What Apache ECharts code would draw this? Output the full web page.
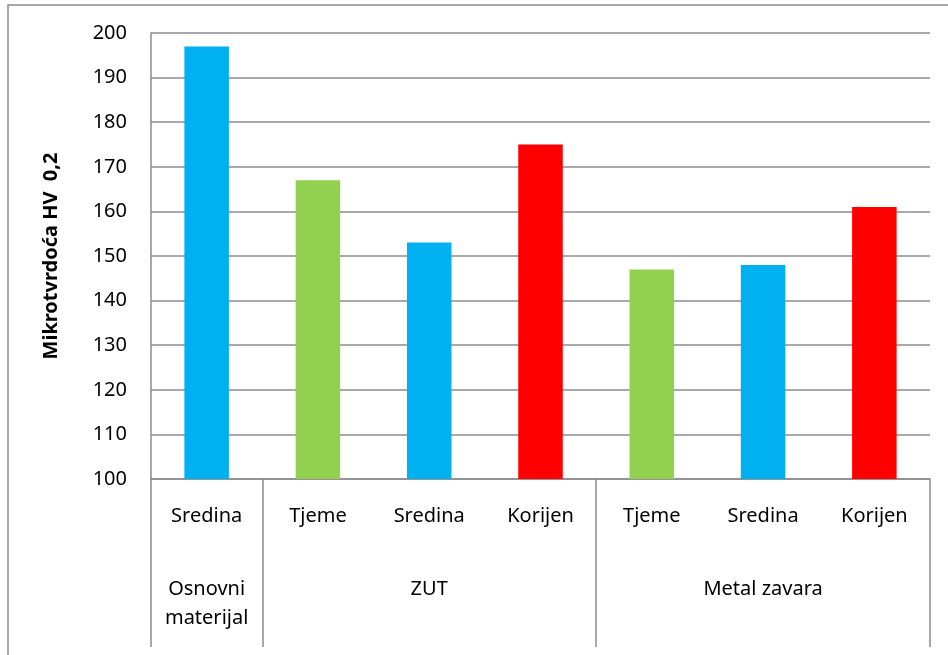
<!DOCTYPE html>
<html>
<head>
<meta charset="utf-8">
<script src="https://cdn.jsdelivr.net/npm/echarts@6/dist/echarts.min.js"></script>
<style>
  html, body { margin: 0; padding: 0; background: #fff; }
  #chart { width: 948px; height: 655px; }
</style>
</head>
<body>
<div id="chart"></div>
<script>
  // podaci
  var categories = ['Sredina', 'Tjeme', 'Sredina', 'Korijen', 'Tjeme', 'Sredina', 'Korijen'];
  var values = [197, 167, 153, 175, 147, 148, 161];
  var groupNames = ['Osnovni\nmaterijal', 'ZUT', 'Metal zavara'];
  var groupCenters = [0.5, 2.5, 5.5];
  var groupBounds = [0, 1, 4, 7];
  var yTicks = [100, 110, 120, 130, 140, 150, 160, 170, 180, 190, 200];

  var barColors = ['#00B0F0', '#92D050', '#00B0F0', '#FF0000', '#92D050', '#00B0F0', '#FF0000'];
  var gray = '#8c8c8c';
  var font = 'Noto Sans';

  var myChart = echarts.init(document.getElementById('chart'));

  var option = {
    animation: false,
    graphic: [{
      type: 'rect',
      shape: { x: 8, y: 5, width: 1200, height: 1200 },
      style: { fill: 'none', stroke: gray, lineWidth: 1.5 }
    }],
    grid: { left: 151, right: 18, top: 33, bottom: 176 },
    xAxis: [
      {
        type: 'category',
        data: categories,
        axisLine: { lineStyle: { color: gray, width: 1.5 } },
        axisTick: { show: false },
        axisLabel: { color: '#000', fontFamily: font, fontSize: 20, margin: 27, interval: 0 }
      },
      {
        type: 'value',
        position: 'bottom',
        min: 0,
        max: 7,
        axisLine: { show: false },
        splitLine: { show: false },
        axisTick: {
          show: true,
          customValues: groupBounds,
          length: 168,
          lineStyle: { color: gray, width: 1.5 }
        },
        axisLabel: {
          customValues: groupCenters,
          color: '#000',
          fontFamily: font,
          fontSize: 20,
          lineHeight: 29,
          margin: 96,
          formatter: function (v) {
            var i = groupCenters.indexOf(v);
            return i >= 0 ? groupNames[i] : '';
          }
        }
      }
    ],
    yAxis: {
      type: 'value',
      min: 100,
      max: 200,
      interval: 10,
      name: 'Mikrotvrdoća HV  0,2',
      nameLocation: 'middle',
      nameGap: 90,
      nameTextStyle: { color: '#000', fontFamily: font, fontSize: 20, fontWeight: 'bold' },
      axisLine: { show: true, lineStyle: { color: gray, width: 1.5 } },
      axisTick: { show: false },
      splitLine: { lineStyle: { color: gray, width: 1.5 } },
      axisLabel: {
        color: '#000', fontFamily: font, fontSize: 20, margin: 24,
        formatter: function (v) { return yTicks.indexOf(v) >= 0 ? String(v) : ''; }
      }
    },
    series: [{
      type: 'bar',
      xAxisIndex: 0,
      barWidth: '40%',
      data: values.map(function (v, i) {
        return { value: v, itemStyle: { color: barColors[i] } };
      })
    }]
  };
  myChart.setOption(option);
</script>
</body>
</html>
